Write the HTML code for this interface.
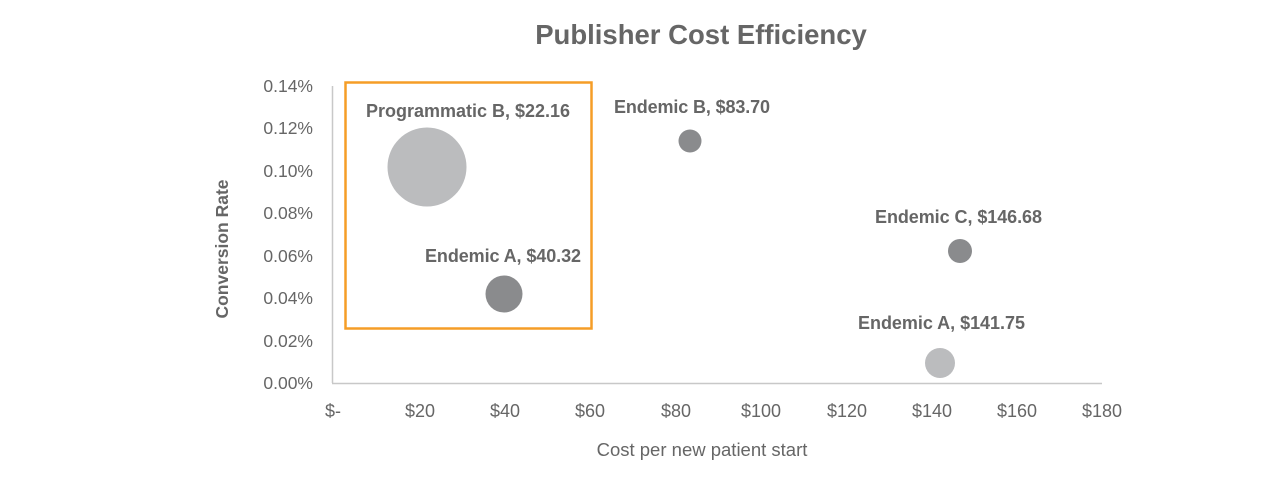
<!DOCTYPE html>
<html><head><style>
body{margin:0;background:#fff;}
svg text{font-family:"Liberation Sans",sans-serif;}
</style></head><body>
<svg width="1278" height="498" xmlns="http://www.w3.org/2000/svg">
<text x="701" y="44" text-anchor="middle" font-size="27.5" font-weight="bold" fill="#666">Publisher Cost Efficiency</text>
<line x1="332.5" y1="86" x2="332.5" y2="383" stroke="#c8c8c8" stroke-width="1.5"/>
<line x1="332" y1="383.5" x2="1102" y2="383.5" stroke="#c8c8c8" stroke-width="1.5"/>
<g font-size="17.5" fill="#666" text-anchor="end">
<text x="313" y="92">0.14%</text>
<text x="313" y="134">0.12%</text>
<text x="313" y="177">0.10%</text>
<text x="313" y="219">0.08%</text>
<text x="313" y="262">0.06%</text>
<text x="313" y="304">0.04%</text>
<text x="313" y="347">0.02%</text>
<text x="313" y="389">0.00%</text>
</g>
<g font-size="18" fill="#666" text-anchor="middle">
<text x="333" y="417">$-</text>
<text x="420" y="417">$20</text>
<text x="505" y="417">$40</text>
<text x="590" y="417">$60</text>
<text x="676" y="417">$80</text>
<text x="761" y="417">$100</text>
<text x="847" y="417">$120</text>
<text x="932" y="417">$140</text>
<text x="1017" y="417">$160</text>
<text x="1102" y="417">$180</text>
</g>
<text x="702" y="456" text-anchor="middle" font-size="18.5" fill="#666">Cost per new patient start</text>
<text transform="translate(228,249) rotate(-90)" text-anchor="middle" font-size="17.5" font-weight="bold" fill="#666">Conversion Rate</text>
<rect x="345.5" y="82.5" width="246" height="246" fill="none" stroke="#f59d27" stroke-width="2.5"/>
<circle cx="427" cy="167" r="39.5" fill="#bbbcbe"/>
<circle cx="504" cy="294" r="18.5" fill="#8a8b8d"/>
<circle cx="690" cy="141" r="11.5" fill="#8a8b8d"/>
<circle cx="960" cy="251" r="12" fill="#8a8b8d"/>
<circle cx="940" cy="363" r="15" fill="#bbbcbe"/>
<g font-size="18" font-weight="bold" fill="#666">
<text x="366" y="117" textLength="204">Programmatic B, $22.16</text>
<text x="425" y="262" textLength="156">Endemic A, $40.32</text>
<text x="614" y="113" textLength="156">Endemic B, $83.70</text>
<text x="875" y="223" textLength="167">Endemic C, $146.68</text>
<text x="858" y="329" textLength="167">Endemic A, $141.75</text>
</g>
</svg>
</body></html>
